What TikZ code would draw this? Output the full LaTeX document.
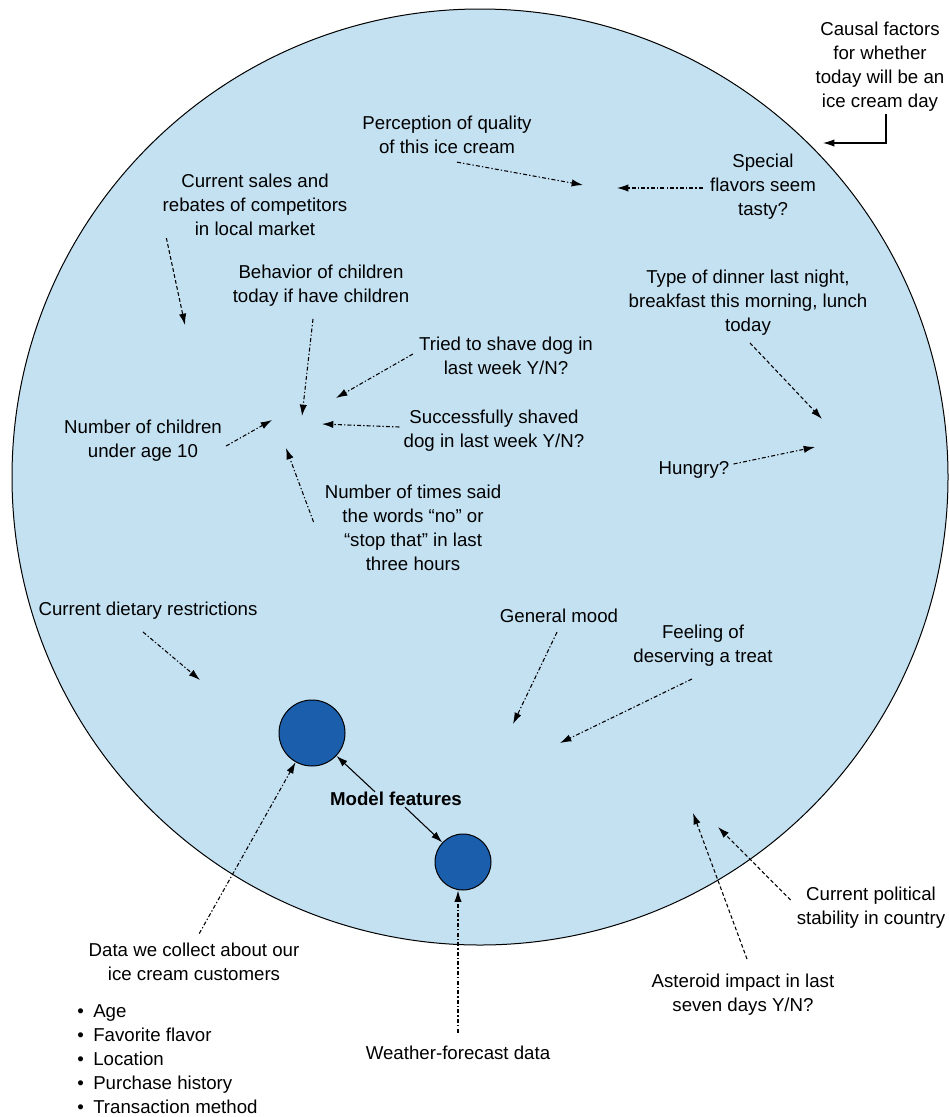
\documentclass[tikz,border=0pt]{standalone}
\usepackage{fontspec}
\setmainfont{Liberation Sans}
\usetikzlibrary{calc,arrows.meta}
\definecolor{iceblue}{RGB}{196,225,242}
\definecolor{featblue}{RGB}{27,94,172}
\newcommand{\bul}{\makebox[12pt][l]{\textbullet}}
\tikzset{
  lbl/.style={align=center,inner sep=0pt,font=\fontsize{14}{18}\selectfont},
  factor/.style={line width=0.8pt,dash pattern=on 3pt off 1.6pt on 1pt off 1.6pt,-{Latex[length=8.5pt,width=5.5pt]}},
  factordash/.style={line width=0.8pt,dash pattern=on 2.8pt off 1.8pt,-{Latex[length=8.5pt,width=5.5pt]}},
  pointer/.style={line width=0.8pt,-{Latex[length=8.5pt,width=5.5pt]}},
  feature/.style={circle,draw,line width=0.75pt,fill=featblue,inner sep=0pt},
}

\begin{document}
\begin{tikzpicture}[x=0.75pt,y=-0.75pt]
	\useasboundingbox (0,0) rectangle (949,1117);
	
	% the big circle of all causal factors
	\draw[fill=iceblue,line width=0.75pt] (480,477) circle[radius=351pt];
	
	% the two model features
	\node[feature,minimum size=49.5pt] (bigfeat) at (312,733) {};
	\node[feature,minimum size=42pt] (smallfeat) at (463,862) {};
	\node[lbl,font=\fontsize{14}{18}\selectfont\bfseries] (model) at (396,799) {Model features};
	
	% labels
	\node[lbl] (causal) at (880,67) {Causal factors\\for whether\\today will be an\\ice cream day};
	\node[lbl] (perception) at (447,135) {Perception of quality\\of this ice cream};
	\node[lbl] (special) at (763,187) {Special\\flavors seem\\tasty?};
	\node[lbl] (sales) at (255,205) {Current sales and\\rebates of competitors\\in local market};
	\node[lbl] (behavior) at (321,286) {Behavior of children\\today if have children};
	\node[lbl] (tried) at (506,356) {Tried to shave dog in\\last week Y/N?};
	\node[lbl] (success) at (494,431) {Successfully shaved\\dog in last week Y/N?};
	\node[lbl] (children) at (143,441) {Number of children\\under age 10};
	\node[lbl] (times) at (413,528) {Number of times said\\the words “no” or\\“stop that” in last\\three hours};
	\node[lbl] (dinner) at (748,303) {Type of dinner last night,\\breakfast this morning, lunch\\today};
	\node[lbl] (hungry) at (694,470) {Hungry?};
	\node[lbl] (dietary) at (148,611) {Current dietary restrictions};
	\node[lbl] (mood) at (559,616) {General mood};
	\node[lbl] (treat) at (703,646) {Feeling of\\deserving a treat};
	\node[lbl] (political) at (871,908) {Current political\\stability in country};
	\node[lbl] (asteroid) at (743,995) {Asteroid impact in last\\seven days Y/N?};
	\node[lbl] (data) at (194,962) {Data we collect about our\\ice cream customers};
	\node[lbl,align=left,anchor=west] (datalist) at (77,1059) {\bul Age\\\bul Favorite flavor\\\bul Location\\\bul Purchase history\\\bul Transaction method};
	\node[lbl] (weather) at (458,1053) {Weather-forecast data};
	
	% where the factor arrows point
	\coordinate (causal-in) at (823,143);
	\coordinate (perception-in) at (583,185);
	\coordinate (special-in) at (617,188);
	\coordinate (sales-in) at (185,325);
	\coordinate (behavior-in) at (302,416);
	\coordinate (tried-in) at (336,398);
	\coordinate (success-in) at (322,424);
	\coordinate (children-in) at (272,420);
	\coordinate (times-in) at (286,448);
	\coordinate (dinner-in) at (822,419);
	\coordinate (hungry-in) at (815,447);
	\coordinate (dietary-in) at (200,680);
	\coordinate (mood-in) at (513,724);
	\coordinate (treat-in) at (560,743);
	\coordinate (political-in) at (718,827);
	\coordinate (asteroid-in) at (693,813);
	
	\draw[pointer] ($(causal.south)+(6,2)$) |- (causal-in);
	
	\draw[factor] ($(perception.south)+(10,8)$) -- (perception-in);
	\draw[factor] ($(special.west)+(-7,1)$) -- (special-in);
	\draw[factordash] ($(sales.south west)+(4,2)$) -- (sales-in);
	\draw[factor] ($(behavior.south)+(-8,12)$) -- (behavior-in);
	\draw[factor] ($(tried.west)+(-6,-2)$) -- (tried-in);
	\draw[factor] ($(success.west)+(-4,-4)$) -- (success-in);
	\draw[factor] ($(children.east)+(4,5)$) -- (children-in);
	\draw[factor] ($(times.west)+(-11,-6)$) -- (times-in);
	\draw[factordash] ($(dinner.south)+(2,7)$) -- (dinner-in);
	\draw[factor] ($(hungry.east)+(4,-6)$) -- (hungry-in);
	\draw[factor] ($(dietary.south)+(-5,12)$) -- (dietary-in);
	\draw[factor] ($(mood.south)+(-2,9)$) -- (mood-in);
	\draw[factor] ($(treat.south)+(-11,12)$) -- (treat-in);
	\draw[factordash] ($(political.west)+(-6,-8)$) -- (political-in);
	\draw[factordash] ($(asteroid.north)+(4,-15)$) -- (asteroid-in);
	
	% arrows into the features
	\draw[pointer] ($(model.north)+(-21,0)$) -- (bigfeat);
	\draw[pointer] ($(model.south)+(9,1)$) -- (smallfeat);
	\draw[factor,shorten <=8pt] (data.north) -- (bigfeat);
	\draw[factor,shorten <=10pt] (weather.north) -- (weather.north |- smallfeat.south);
	
\end{tikzpicture}
\end{document}
